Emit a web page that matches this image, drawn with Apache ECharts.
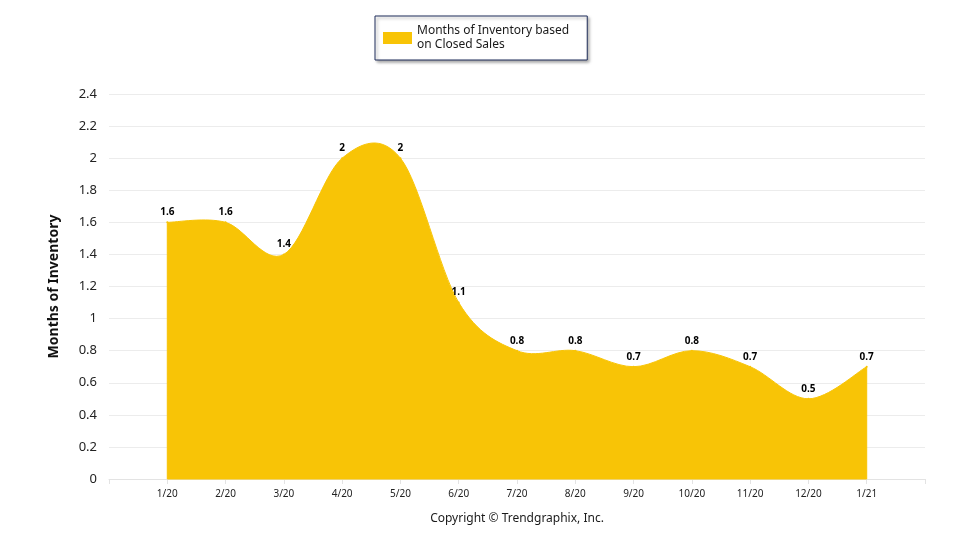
<!DOCTYPE html>
<html>
<head>
    <meta charset="utf-8">
    <title>Months of Inventory</title>
    <script src="https://cdn.jsdelivr.net/npm/echarts@6/dist/echarts.min.js"></script>
    <style>
        html, body { margin: 0; padding: 0; background: #fff; }
        #chart { width: 960px; height: 550px; }
    </style>
</head>
<body>
<div id="chart"></div>
<script>
    // categories (blank slots at both ends to leave room like the original)
    var months = ['', '1/20', '2/20', '3/20', '4/20', '5/20', '6/20', '7/20', '8/20',
                  '9/20', '10/20', '11/20', '12/20', '1/21', ''];
    var inventory = [null, 1.6, 1.6, 1.4, 2, 2, 1.1, 0.8, 0.8, 0.7, 0.8, 0.7, 0.5, 0.7, null];
    var seriesName = 'Months of Inventory based\non Closed Sales';

    var chart = echarts.init(document.getElementById('chart'));
    var font = '"Noto Sans", sans-serif';
    var gold = '#f8c406';

    // spline area (Catmull-Rom) drawn once, through the axis scales
    function renderArea(params, api) {
        var first = inventory.findIndex(function (v) { return v != null; });
        if (params.dataIndex !== first) return null;
        var pts = [];
        inventory.forEach(function (v, i) {
            if (v != null) pts.push(api.coord([i, v]));
        });
        var base = api.coord([first, 0])[1];
        var d = 'M' + pts[0][0] + ' ' + base + ' L' + pts[0][0] + ' ' + pts[0][1];
        for (var i = 0; i < pts.length - 1; i++) {
            var p0 = pts[Math.max(i - 1, 0)], p1 = pts[i], p2 = pts[i + 1],
                p3 = pts[Math.min(i + 2, pts.length - 1)];
            var c1x = p1[0] + (p2[0] - p0[0]) / 6, c1y = p1[1] + (p2[1] - p0[1]) / 6;
            var c2x = p2[0] - (p3[0] - p1[0]) / 6, c2y = p2[1] - (p3[1] - p1[1]) / 6;
            d += ' C' + c1x + ' ' + c1y + ' ' + c2x + ' ' + c2y + ' ' + p2[0] + ' ' + p2[1];
        }
        d += ' L' + pts[pts.length - 1][0] + ' ' + base + ' Z';
        return {
            type: 'path',
            shape: { pathData: d },
            style: { fill: gold, stroke: gold, lineWidth: 1 }
        };
    }

    chart.setOption({
        animation: false,
        grid: { left: 109, right: 35, top: 94, bottom: 71 },
        legend: {
            top: 16,
            left: 375,
            padding: [8, 18, 8, 8],
            itemWidth: 29,
            itemHeight: 12,
            itemGap: 6,
            borderColor: '#1f2d5a',
            borderWidth: 1,
            backgroundColor: '#fff',
            shadowColor: 'rgba(0,0,0,0.35)',
            shadowBlur: 3,
            shadowOffsetX: 2,
            shadowOffsetY: 2,
            textStyle: { fontFamily: font, fontSize: 12, color: '#1a1a1a', lineHeight: 14 },
            data: [{ name: seriesName, icon: 'rect', itemStyle: { color: gold } }]
        },
        xAxis: {
            type: 'category',
            data: months,
            boundaryGap: false,
            name: 'Copyright © Trendgraphix, Inc.',
            nameLocation: 'middle',
            nameGap: 34,
            nameTextStyle: { fontFamily: font, fontSize: 12, color: '#1a1a1a' },
            axisLine: { lineStyle: { color: '#e3e3e3' } },
            axisTick: { show: true, alignWithLabel: true, lineStyle: { color: '#e3e3e3' } },
            axisLabel: { fontFamily: font, fontSize: 10, color: '#222', margin: 10, interval: 0 },
            splitLine: { show: false }
        },
        yAxis: {
            type: 'value',
            min: 0,
            max: 2.4,
            interval: 0.2,
            name: 'Months of Inventory',
            nameLocation: 'middle',
            nameGap: 48,
            nameTextStyle: { fontFamily: font, fontSize: 14, fontWeight: 'bold', color: '#111' },
            axisLine: { show: false },
            axisTick: { show: false },
            axisLabel: {
                fontFamily: font, fontSize: 13, color: '#222', margin: 12,
                formatter: function (v) { return String(Math.round(v * 10) / 10); }
            },
            splitLine: { lineStyle: { color: '#ececec' } }
        },
        series: [{
            name: seriesName,
            type: 'custom',
            renderItem: renderArea,
            data: inventory.map(function (v, i) { return [i, v]; }),
            itemStyle: { color: gold },
            clip: false,
            z: 2
        }, {
            name: 'labels',
            type: 'line',
            data: inventory,
            symbol: 'circle',
            symbolSize: 2,
            showSymbol: true,
            itemStyle: { color: gold },
            lineStyle: { opacity: 0 },
            z: 3,
            label: {
                show: true,
                position: 'top',
                distance: 4,
                fontFamily: font,
                fontSize: 10,
                fontWeight: 'bold',
                color: '#000'
            }
        }]
    });
</script>
</body>
</html>
